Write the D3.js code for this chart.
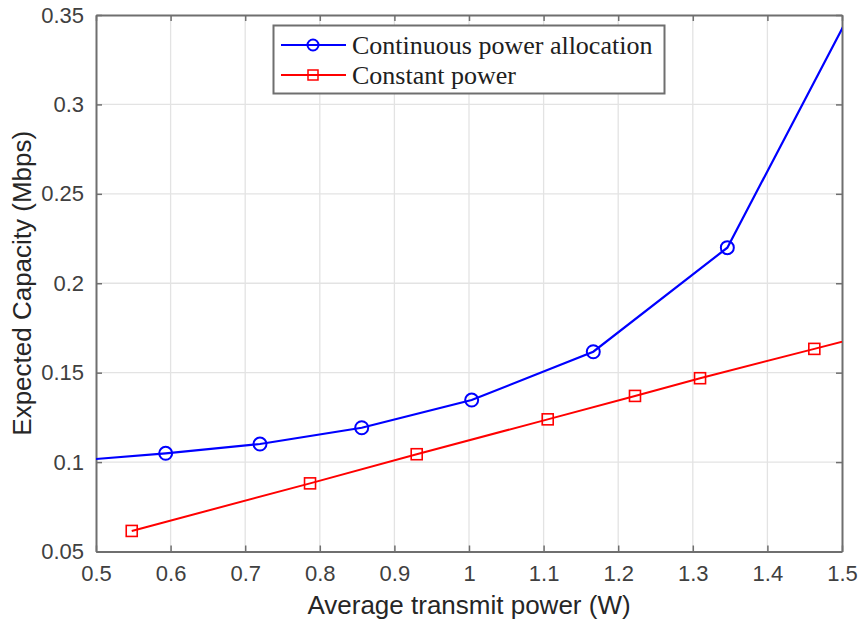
<!DOCTYPE html>
<html>
<head>
<meta charset="utf-8">
<script src="https://cdn.jsdelivr.net/npm/d3@7"></script>
<style>
  html, body { margin: 0; padding: 0; background: #ffffff; }
  svg { display: block; }
</style>
</head>
<body>
<svg id="chart" width="862" height="628"></svg>
<script>
// ---- data ----
const blueX = [0.47, 0.5934, 0.7198, 0.8562, 1.0036, 1.1666, 1.3463, 1.55];
const blueY = [0.1007, 0.1049, 0.1101, 0.1192, 0.1347, 0.1617, 0.2199, 0.3820];
const blueMarked = [false, true, true, true, true, true, true, false];

const redX = [0.5479, 0.7869, 0.9299, 1.1055, 1.2225, 1.3097, 1.4629, 1.58];
const redY = [0.0615, 0.0881, 0.1044, 0.1239, 0.1370, 0.1469, 0.1633, 0.1760];
const redMarked = [true, true, true, true, true, true, true, false];

const xTicks = [0.5, 0.6, 0.7, 0.8, 0.9, 1.0, 1.1, 1.2, 1.3, 1.4, 1.5];
const yTicks = [0.05, 0.1, 0.15, 0.2, 0.25, 0.3, 0.35];
const seriesNames = ["Continuous power allocation", "Constant power"];
const xLabel = "Average transmit power (W)";
const yLabel = "Expected Capacity (Mbps)";

// ---- layout ----
const L = 96, R = 842, T = 15, B = 551.5;
const svg = d3.select("#chart");
const x = d3.scaleLinear().domain([0.5, 1.5]).range([L, R]);
const y = d3.scaleLinear().domain([0.05, 0.35]).range([B, T]);

const axisColor = "#6f6f6f";
const gridColor = "#e3e3e3";

// grid
svg.append("g").selectAll("line.gx").data(xTicks.slice(1, -1)).join("line")
  .attr("x1", d => x(d)).attr("x2", d => x(d)).attr("y1", T).attr("y2", B)
  .attr("stroke", gridColor).attr("stroke-width", 1.3);
svg.append("g").selectAll("line.gy").data(yTicks.slice(1, -1)).join("line")
  .attr("y1", d => y(d)).attr("y2", d => y(d)).attr("x1", L).attr("x2", R)
  .attr("stroke", gridColor).attr("stroke-width", 1.3);

// axes (ticks inside, on all four sides)
const fmt = d => (d === 1 ? "1" : String(+d.toFixed(2)));
const tickFont = "Liberation Sans, Arial, sans-serif";

const xb = svg.append("g").attr("transform", `translate(0,${B})`)
  .call(d3.axisBottom(x).tickValues(xTicks).tickFormat(fmt).tickSizeInner(-6).tickSizeOuter(0).tickPadding(14));
const xt = svg.append("g").attr("transform", `translate(0,${T})`)
  .call(d3.axisTop(x).tickValues(xTicks).tickFormat("").tickSizeInner(-6).tickSizeOuter(0));
const yl = svg.append("g").attr("transform", `translate(${L},0)`)
  .call(d3.axisLeft(y).tickValues(yTicks).tickFormat(fmt).tickSizeInner(-6).tickSizeOuter(0).tickPadding(12));
const yr = svg.append("g").attr("transform", `translate(${R},0)`)
  .call(d3.axisRight(y).tickValues(yTicks).tickFormat("").tickSizeInner(-6).tickSizeOuter(0));

[xb, xt, yl, yr].forEach(g => {
  g.select(".domain").attr("stroke", axisColor).attr("stroke-width", 2);
  g.selectAll(".tick line").attr("stroke", axisColor).attr("stroke-width", 1.5);
  g.selectAll("text").attr("fill", "#404040").style("font-family", tickFont).style("font-size", "22px");
});
xb.selectAll("text").attr("dy", "0.71em");

// clip
svg.append("clipPath").attr("id", "clip").append("rect")
  .attr("x", L).attr("y", T).attr("width", R - L).attr("height", B - T);

const plot = svg.append("g").attr("clip-path", "url(#clip)");
const line = d3.line().x(d => x(d[0])).y(d => y(d[1]));

const blue = blueX.map((v, i) => [v, blueY[i], blueMarked[i]]);
const red = redX.map((v, i) => [v, redY[i], redMarked[i]]);

plot.append("path").datum(red).attr("d", line)
  .attr("fill", "none").attr("stroke", "#ff0000").attr("stroke-width", 2);
plot.append("path").datum(blue).attr("d", line)
  .attr("fill", "none").attr("stroke", "#0000ff").attr("stroke-width", 2.2);

plot.selectAll("rect.rm").data(red.filter(d => d[2])).join("rect")
  .attr("x", d => x(d[0]) - 5.5).attr("y", d => y(d[1]) - 5.5)
  .attr("width", 11).attr("height", 11)
  .attr("fill", "none").attr("stroke", "#ff0000").attr("stroke-width", 1.6);
plot.selectAll("circle.bm").data(blue.filter(d => d[2])).join("circle")
  .attr("cx", d => x(d[0])).attr("cy", d => y(d[1])).attr("r", 6.5)
  .attr("fill", "none").attr("stroke", "#0000ff").attr("stroke-width", 2);

// axis labels
svg.append("text").attr("x", (L + R) / 2).attr("y", 614)
  .attr("text-anchor", "middle").attr("fill", "#262626")
  .style("font-family", tickFont).style("font-size", "26px").text(xLabel);
svg.append("text").attr("transform", `translate(31,${(T + B) / 2}) rotate(-90)`)
  .attr("text-anchor", "middle").attr("fill", "#262626")
  .style("font-family", tickFont).style("font-size", "26px").text(yLabel);

// legend
const lg = svg.append("g");
lg.append("rect").attr("x", 273.5).attr("y", 25.5).attr("width", 391).attr("height", 68)
  .attr("fill", "#ffffff").attr("stroke", "#6f6f6f").attr("stroke-width", 2);
const rows = [
  { name: seriesNames[0], color: "#0000ff", shape: "circle", yy: 45 },
  { name: seriesNames[1], color: "#ff0000", shape: "square", yy: 75 }
];
rows.forEach(r => {
  lg.append("line").attr("x1", 281).attr("x2", 346).attr("y1", r.yy).attr("y2", r.yy)
    .attr("stroke", r.color).attr("stroke-width", 1.8);
  if (r.shape === "circle") {
    lg.append("circle").attr("cx", 313).attr("cy", r.yy).attr("r", 5.5)
      .attr("fill", "none").attr("stroke", r.color).attr("stroke-width", 2);
  } else {
    lg.append("rect").attr("x", 308).attr("y", r.yy - 5).attr("width", 10).attr("height", 10)
      .attr("fill", "none").attr("stroke", r.color).attr("stroke-width", 1.5);
  }
  lg.append("text").attr("x", 352).attr("y", r.yy).attr("dy", "0.35em")
    .attr("fill", "#202020")
    .style("font-family", "Liberation Serif, Times New Roman, serif").style("font-size", "26px")
    .text(r.name);
});
</script>
</body>
</html>
